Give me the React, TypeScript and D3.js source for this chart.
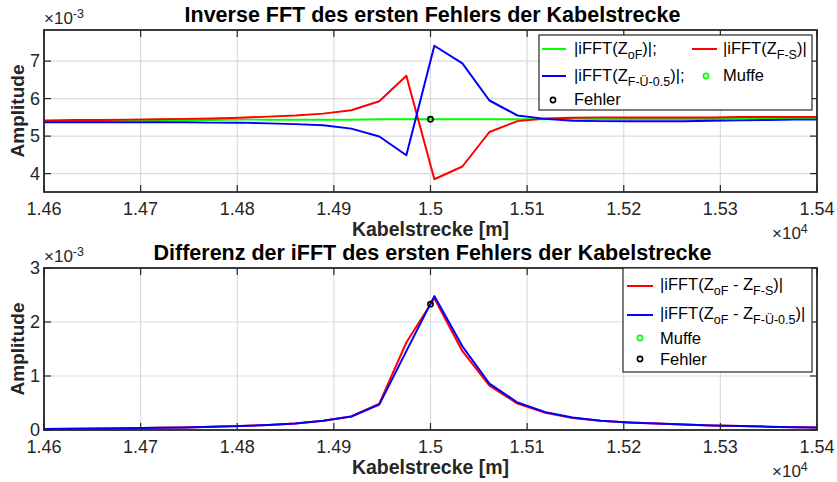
import React from "react";
import * as d3 from "d3";

// Sample positions along the cable (m)
const xPos = [14573, 14602, 14631, 14660, 14688, 14717, 14746, 14774, 14803, 14832, 14860, 14889, 14918, 14947, 14975, 15004, 15033, 15061, 15090, 15119, 15147, 15176, 15205, 15234, 15262, 15291, 15320, 15348, 15377, 15406, 15434];

// Top plot (x1e-3)
const topGreen = [5.40, 5.40, 5.41, 5.41, 5.42, 5.42, 5.43, 5.43, 5.44, 5.44, 5.44, 5.44, 5.44, 5.45, 5.45, 5.45, 5.45, 5.45, 5.45, 5.45, 5.46, 5.46, 5.46, 5.46, 5.46, 5.46, 5.47, 5.47, 5.47, 5.47, 5.47];
const topRed = [5.42, 5.42, 5.43, 5.43, 5.44, 5.45, 5.46, 5.47, 5.49, 5.52, 5.55, 5.60, 5.69, 5.93, 6.61, 3.85, 4.19, 5.11, 5.40, 5.47, 5.49, 5.50, 5.50, 5.50, 5.50, 5.50, 5.51, 5.51, 5.51, 5.51, 5.51];
const topBlue = [5.37, 5.37, 5.37, 5.37, 5.37, 5.37, 5.37, 5.36, 5.36, 5.34, 5.32, 5.29, 5.20, 4.99, 4.49, 7.41, 6.94, 5.95, 5.55, 5.46, 5.41, 5.40, 5.40, 5.40, 5.40, 5.41, 5.42, 5.43, 5.44, 5.44, 5.45];

// Bottom plot (x1e-3)
const botRed = [0.018, 0.020, 0.024, 0.028, 0.033, 0.040, 0.048, 0.058, 0.072, 0.092, 0.12, 0.17, 0.25, 0.49, 1.62, 2.44, 1.46, 0.82, 0.49, 0.32, 0.22, 0.17, 0.14, 0.12, 0.10, 0.085, 0.072, 0.062, 0.053, 0.046, 0.040];
const botBlue = [0.018, 0.020, 0.024, 0.028, 0.033, 0.040, 0.048, 0.058, 0.072, 0.092, 0.12, 0.17, 0.25, 0.47, 1.46, 2.48, 1.55, 0.86, 0.51, 0.33, 0.23, 0.17, 0.14, 0.12, 0.10, 0.085, 0.072, 0.062, 0.053, 0.046, 0.040];

const fehlerX = 15000;
const fehlerTopY = 5.45;
const fehlerBotY = 2.33;

const xTicks = [14600, 14700, 14800, 14900, 15000, 15100, 15200, 15300, 15400];
const xTickLabels = ["1.46", "1.47", "1.48", "1.49", "1.5", "1.51", "1.52", "1.53", "1.54"];
const topYTicks = [4, 5, 6, 7];
const botYTicks = [0, 1, 2, 3];

const FONT = "'Liberation Sans', Arial, Helvetica, sans-serif";
const AX = "#262626";
const GRID = "#dcdcdc";

type PanelProps = {
  top: number;
  bottom: number;
  yDomain: [number, number];
  yTicks: number[];
  series: { values: number[]; color: string }[];
  fehlerY: number;
  title: string;
  clipId: string;
};

const left = 44;
const right = 817;

function Panel({ top, bottom, yDomain, yTicks, series, fehlerY, title, clipId }: PanelProps) {
  const x = d3.scaleLinear().domain([14600, 15400]).range([left, right]);
  const y = d3.scaleLinear().domain(yDomain).range([bottom, top]);
  const line = d3
    .line<number>()
    .x((_, i) => x(xPos[i]))
    .y((d) => y(d));
  return (
    <g>
      <defs>
        <clipPath id={clipId}>
          <rect x={left} y={top} width={right - left} height={bottom - top} />
        </clipPath>
      </defs>
      <rect x={left} y={top} width={right - left} height={bottom - top} fill="#fff" />
      {xTicks.map((t) => (
        <line key={"gx" + t} x1={x(t)} x2={x(t)} y1={top} y2={bottom} stroke={GRID} strokeWidth={1.2} />
      ))}
      {yTicks.map((t) => (
        <line key={"gy" + t} x1={left} x2={right} y1={y(t)} y2={y(t)} stroke={GRID} strokeWidth={1.2} />
      ))}
      <g clipPath={`url(#${clipId})`}>
        {series.map((s, i) => (
          <path key={i} d={line(s.values) || ""} fill="none" stroke={s.color} strokeWidth={2} strokeLinejoin="round" />
        ))}
        <circle cx={x(fehlerX)} cy={y(fehlerY)} r={2.6} fill="none" stroke="#000" strokeWidth={1.6} />
      </g>
      {/* ticks */}
      {xTicks.map((t, i) => (
        <g key={"tx" + t}>
          <line x1={x(t)} x2={x(t)} y1={bottom} y2={bottom - 7} stroke={AX} strokeWidth={1.2} />
          <line x1={x(t)} x2={x(t)} y1={top} y2={top + 7} stroke={AX} strokeWidth={1.2} />
          <text x={x(t)} y={bottom + 23} textAnchor="middle" fontSize={18} fill={AX} fontFamily={FONT}>
            {xTickLabels[i]}
          </text>
        </g>
      ))}
      {yTicks.map((t) => (
        <g key={"ty" + t}>
          <line x1={left} x2={left + 7} y1={y(t)} y2={y(t)} stroke={AX} strokeWidth={1.2} />
          <line x1={right} x2={right - 7} y1={y(t)} y2={y(t)} stroke={AX} strokeWidth={1.2} />
          <text x={left - 4} y={y(t) + 6} textAnchor="end" fontSize={18} fill={AX} fontFamily={FONT}>
            {t}
          </text>
        </g>
      ))}
      <rect x={left} y={top} width={right - left} height={bottom - top} fill="none" stroke={AX} strokeWidth={1.8} />
      {/* exponent labels */}
      <text x={left} y={top - 6} fontSize={17} fill={AX} fontFamily={FONT}>
        ×10<tspan dy={-6} fontSize={12.5}>-3</tspan>
      </text>
      <text x={right - 45} y={bottom + 47} fontSize={17} fill={AX} fontFamily={FONT}>
        ×10<tspan dy={-6} fontSize={12.5}>4</tspan>
      </text>
      <text x={(left + right) / 2 + 2} y={top - 8} textAnchor="middle" fontSize={21.5} fontWeight="bold" fill="#000" fontFamily={FONT}>
        {title}
      </text>
      <text x={(left + right) / 2} y={bottom + 44} textAnchor="middle" fontSize={19.5} fontWeight="bold" fill={AX} fontFamily={FONT}>
        Kabelstrecke [m]
      </text>
      <text
        transform={`translate(${left - 20},${(top + bottom) / 2}) rotate(-90)`}
        textAnchor="middle"
        fontSize={19}
        fontWeight="bold"
        fill={AX}
        fontFamily={FONT}
      >
        Amplitude
      </text>
    </g>
  );
}

function Label({ x, y, parts }: { x: number; y: number; parts: { t: string; sub?: boolean }[] }) {
  let prevSub = false;
  return (
    <text x={x} y={y} fontSize={16.5} fill="#000" fontFamily={FONT}>
      {parts.map((p, i) => {
        let dy = 0;
        if (p.sub && !prevSub) dy = 5;
        if (!p.sub && prevSub) dy = -5;
        prevSub = !!p.sub;
        return (
          <tspan key={i} dy={dy} fontSize={p.sub ? 12.5 : 16.5}>
            {p.t}
          </tspan>
        );
      })}
    </text>
  );
}

export default function App() {
  return (
    <svg width={837} height={482} style={{ position: "absolute", left: 0, top: 0, background: "#fff" }}>
      <rect width={837} height={482} fill="#fff" />
      <Panel
        top={30}
        bottom={192}
        yDomain={[3.51, 7.83]}
        yTicks={topYTicks}
        series={[
          { values: topGreen, color: "#00ff00" },
          { values: topRed, color: "#ff0000" },
          { values: topBlue, color: "#0000ff" },
        ]}
        fehlerY={fehlerTopY}
        title="Inverse FFT des ersten Fehlers der Kabelstrecke"
        clipId="clipTop"
      />
      <Panel
        top={268}
        bottom={430}
        yDomain={[0, 3]}
        yTicks={botYTicks}
        series={[
          { values: botRed, color: "#ff0000" },
          { values: botBlue, color: "#0000ff" },
        ]}
        fehlerY={fehlerBotY}
        title="Differenz der iFFT des ersten Fehlers der Kabelstrecke"
        clipId="clipBot"
      />
      {/* Top legend */}
      <g>
        <rect x={539} y={35} width={273} height={75} fill="#fff" stroke={AX} strokeWidth={1.2} />
        <line x1={542} x2={566} y1={49} y2={49} stroke="#00ff00" strokeWidth={2} />
        <Label x={574} y={54} parts={[{ t: "|iFFT(Z" }, { t: "oF", sub: true }, { t: ")|;" }]} />
        <line x1={692} x2={717} y1={49} y2={49} stroke="#ff0000" strokeWidth={2} />
        <Label x={723} y={54} parts={[{ t: "|iFFT(Z" }, { t: "F-S", sub: true }, { t: ")|" }]} />
        <line x1={542} x2={566} y1={76} y2={76} stroke="#0000ff" strokeWidth={2} />
        <Label x={574} y={81} parts={[{ t: "|iFFT(Z" }, { t: "F-Ü-0.5", sub: true }, { t: ")|;" }]} />
        <circle cx={706} cy={76} r={2.6} fill="none" stroke="#00ff00" strokeWidth={1.6} />
        <Label x={723} y={81} parts={[{ t: "Muffe" }]} />
        <circle cx={553} cy={100} r={2.6} fill="none" stroke="#000" strokeWidth={1.6} />
        <Label x={574} y={105} parts={[{ t: "Fehler" }]} />
      </g>
      {/* Bottom legend */}
      <g>
        <rect x={623} y={268} width={189} height={104} fill="#fff" stroke={AX} strokeWidth={1.2} />
        <line x1={627} x2={653} y1={286} y2={286} stroke="#ff0000" strokeWidth={2} />
        <Label x={660} y={290} parts={[{ t: "|iFFT(Z" }, { t: "oF", sub: true }, { t: " - Z" }, { t: "F-S", sub: true }, { t: ")|" }]} />
        <line x1={627} x2={653} y1={315} y2={315} stroke="#0000ff" strokeWidth={2} />
        <Label x={660} y={319} parts={[{ t: "|iFFT(Z" }, { t: "oF", sub: true }, { t: " - Z" }, { t: "F-Ü-0.5", sub: true }, { t: ")|" }]} />
        <circle cx={640} cy={338} r={2.6} fill="none" stroke="#00ff00" strokeWidth={1.6} />
        <Label x={660} y={344} parts={[{ t: "Muffe" }]} />
        <circle cx={640} cy={359} r={2.6} fill="none" stroke="#000" strokeWidth={1.6} />
        <Label x={660} y={365} parts={[{ t: "Fehler" }]} />
      </g>
    </svg>
  );
}
